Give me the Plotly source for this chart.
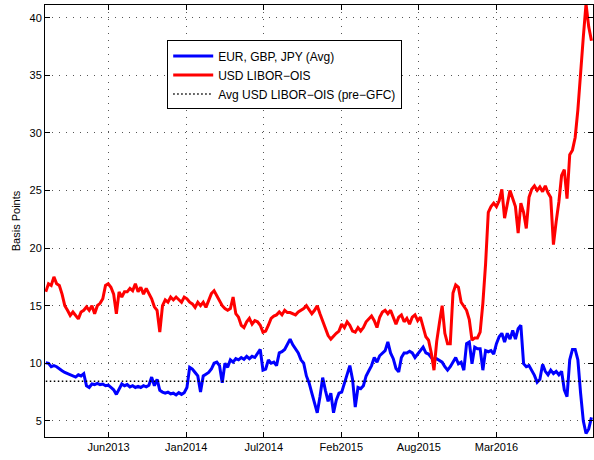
"""LIBOR-OIS spreads: USD vs EUR/GBP/JPY average, weekly readings."""

import pandas as pd
import plotly.graph_objects as go

# weekly observations, first one on 2013-01-04
START_DATE = "2013-01-04"

usd_libor_ois = [
    16.2, 16.9, 16.75, 17.5, 16.9, 16.75, 16.0, 15.0, 14.6, 14.15,
    14.45, 14.15, 13.85, 14.45, 14.6, 14.9, 14.6, 15.0, 14.3, 15.0,
    15.2, 15.6, 16.75, 16.9, 16.6, 16.0, 14.3, 16.2, 15.75, 16.2,
    16.2, 16.5, 16.3, 16.9, 16.2, 16.6, 16.0, 16.5, 16.0, 15.6,
    14.9, 14.6, 12.7, 15.0, 15.5, 15.3, 15.75, 15.5, 15.75, 15.5,
    15.3, 15.75, 15.6, 15.3, 15.15, 14.85, 15.3, 15.0, 15.3, 14.85,
    15.5, 16.05, 16.3, 15.9, 15.5, 15.0, 14.75, 14.6, 14.75, 15.75,
    14.3, 14.0, 13.3, 13.1, 13.6, 13.9, 13.4, 13.7, 13.6, 13.3,
    12.7, 12.8, 13.3, 13.9, 14.1, 14.2, 14.45, 14.2, 14.6, 14.4,
    14.4, 14.3, 14.2, 14.45, 14.6, 14.75, 15.0, 14.6, 14.3, 14.6,
    15.0, 14.3, 13.7, 13.1, 12.4, 12.1, 12.4, 12.6, 12.8, 13.4,
    13.1, 13.6, 13.3, 12.8, 12.7, 13.1, 12.8, 13.1, 13.6, 13.9,
    14.1, 13.7, 13.1, 14.0, 14.45, 14.6, 14.3, 14.6, 14.0, 13.4,
    14.0, 14.2, 13.6, 13.9, 13.4, 14.0, 14.2, 13.7, 14.0, 13.1,
    12.3, 12.0, 10.9, 9.4, 11.9, 13.5, 15.0, 12.6, 11.7, 11.7,
    16.1, 16.8, 16.6, 15.3, 15.0, 14.6, 13.8, 12.0, 12.2, 12.2,
    12.7, 15.2, 18.6, 23.1, 23.6, 23.9, 23.6, 24.1, 25.1, 22.6,
    23.8, 25.0, 24.3, 23.6, 21.3, 23.9, 23.1, 21.7, 24.4, 25.1,
    25.4, 25.0, 25.3, 24.9, 25.4, 24.8, 24.4, 20.3, 22.3, 24.0,
    26.3, 26.8, 24.3, 28.1, 28.5, 29.6, 32.0, 34.8, 38.3, 41.2,
    39.2, 38.0,
]

eur_gbp_jpy_avg = [
    10.05, 10.0, 9.7, 9.8, 9.7, 9.5, 9.35, 9.2, 9.1, 9.05,
    8.9, 8.8, 9.0, 8.9, 9.1, 8.05, 7.9, 8.2, 8.15, 8.25,
    8.15, 8.2, 8.05, 8.1, 7.9, 7.7, 7.3, 7.8, 8.2, 8.05,
    8.15, 7.95, 8.05, 7.9, 8.0, 7.9, 8.05, 7.95, 8.1, 8.8,
    8.05, 8.6, 7.65, 7.5, 7.4, 7.5, 7.35, 7.4, 7.25, 7.45,
    7.3, 7.45, 7.9, 9.65, 9.5, 9.2, 8.9, 7.5, 8.9, 9.05,
    9.2, 9.5, 10.0, 10.1, 9.8, 8.3, 10.0, 9.65, 10.3, 10.1,
    10.4, 10.3, 10.5, 10.35, 10.6, 10.4, 10.6, 10.5, 10.9, 11.2,
    9.4, 9.5, 10.3, 10.0, 10.1, 9.8, 10.9, 11.0, 11.2, 11.6,
    12.1, 11.6, 11.3, 10.9, 10.3, 10.0, 8.9, 8.3, 7.4, 6.5,
    5.7, 7.1, 8.75, 7.65, 6.7, 7.4, 5.7, 6.8, 7.4, 7.5,
    8.2, 9.1, 9.8, 8.6, 6.2, 7.9, 7.8, 8.05, 8.9, 9.35,
    9.8, 10.5, 10.1, 10.65, 10.9, 11.1, 11.85, 10.9, 10.4, 9.55,
    9.25, 10.5, 10.9, 10.9, 11.05, 10.9, 10.5, 10.8, 11.05, 11.4,
    10.9, 10.8, 10.5, 10.25, 10.4, 10.25, 10.1, 9.7, 9.4, 9.7,
    10.1, 10.5, 9.96, 10.1, 9.4, 11.7, 11.85, 9.96, 11.4, 11.25,
    11.25, 9.4, 11.1, 11.0, 11.1, 10.8, 11.7, 12.3, 12.6, 11.85,
    12.6, 12.1, 12.85, 12.1, 13.0, 13.3, 9.96, 9.7, 9.8, 9.4,
    8.95, 8.35, 8.6, 9.9, 9.3, 9.0, 9.4, 9.1, 9.3, 9.0,
    9.3, 7.7, 7.1, 10.3, 11.2, 11.2, 10.3, 7.4, 5.0, 3.9,
    4.3, 5.3,
]

pre_gfc_avg = 8.44

tick_dates = ["2013-06-15", "2014-01-01", "2014-07-20", "2015-02-05", "2015-08-24", "2016-03-11"]
tick_labels = ["Jun2013", "Jan2014", "Jul2014", "Feb2015", "Aug2015", "Mar2016"]
y_ticks = [5, 10, 15, 20, 25, 30, 35, 40]

dates = pd.date_range(START_DATE, periods=len(usd_libor_ois), freq="7D")

fig = go.Figure()
fig.add_trace(
    go.Scatter(
        x=dates,
        y=eur_gbp_jpy_avg,
        mode="lines",
        name="EUR, GBP, JPY (Avg)",
        line={"color": "#0000ff", "width": 3},
    )
)
fig.add_trace(
    go.Scatter(
        x=dates,
        y=usd_libor_ois,
        mode="lines",
        name="USD LIBOR\u2212OIS",
        line={"color": "#ff0000", "width": 3},
    )
)
fig.add_trace(
    go.Scatter(
        x=[dates[0], dates[-1]],
        y=[pre_gfc_avg, pre_gfc_avg],
        mode="lines",
        name="Avg USD LIBOR\u2212OIS (pre\u2212GFC)",
        line={"color": "#000000", "width": 1.5, "dash": "1.5px,2.5px"},
    )
)

axis_common = {
    "showline": True,
    "linecolor": "black",
    "linewidth": 1,
    "mirror": "ticks",
    "ticks": "inside",
    "ticklen": 5,
    "tickcolor": "black",
    "showgrid": True,
    "gridcolor": "#555555",
    "gridwidth": 1,
    "griddash": "1px,6px",
    "zeroline": False,
    "automargin": False,
    "tickfont": {"size": 11, "color": "black"},
}

fig.update_xaxes(
    type="date",
    range=["2013-01-02", "2016-11-15"],
    tickvals=tick_dates,
    ticktext=tick_labels,
    **axis_common,
)
fig.update_yaxes(
    range=[3.6, 41.1],
    tickvals=y_ticks,
    title={"text": "Basis Points", "font": {"size": 11, "color": "black"}, "standoff": 6},
    **axis_common,
)

fig.update_layout(
    width=594,
    height=460,
    margin={"l": 45, "r": 1, "t": 5, "b": 23},
    paper_bgcolor="white",
    plot_bgcolor="white",
    font={"family": "Liberation Sans, Arial, sans-serif", "size": 11, "color": "black"},
    showlegend=True,
    legend={
        "x": 0.223,
        "y": 0.918,
        "xanchor": "left",
        "yanchor": "top",
        "bgcolor": "white",
        "bordercolor": "black",
        "borderwidth": 1,
        "font": {"size": 12, "color": "black"},
        "tracegroupgap": 0,
        "itemwidth": 40,
    },
)

# plain page: no default body margin around the figure
fig.write_html(
    "out.html",
    config={"displayModeBar": False},
    post_script="document.body.style.margin='0';document.body.style.overflow='hidden';",
)
